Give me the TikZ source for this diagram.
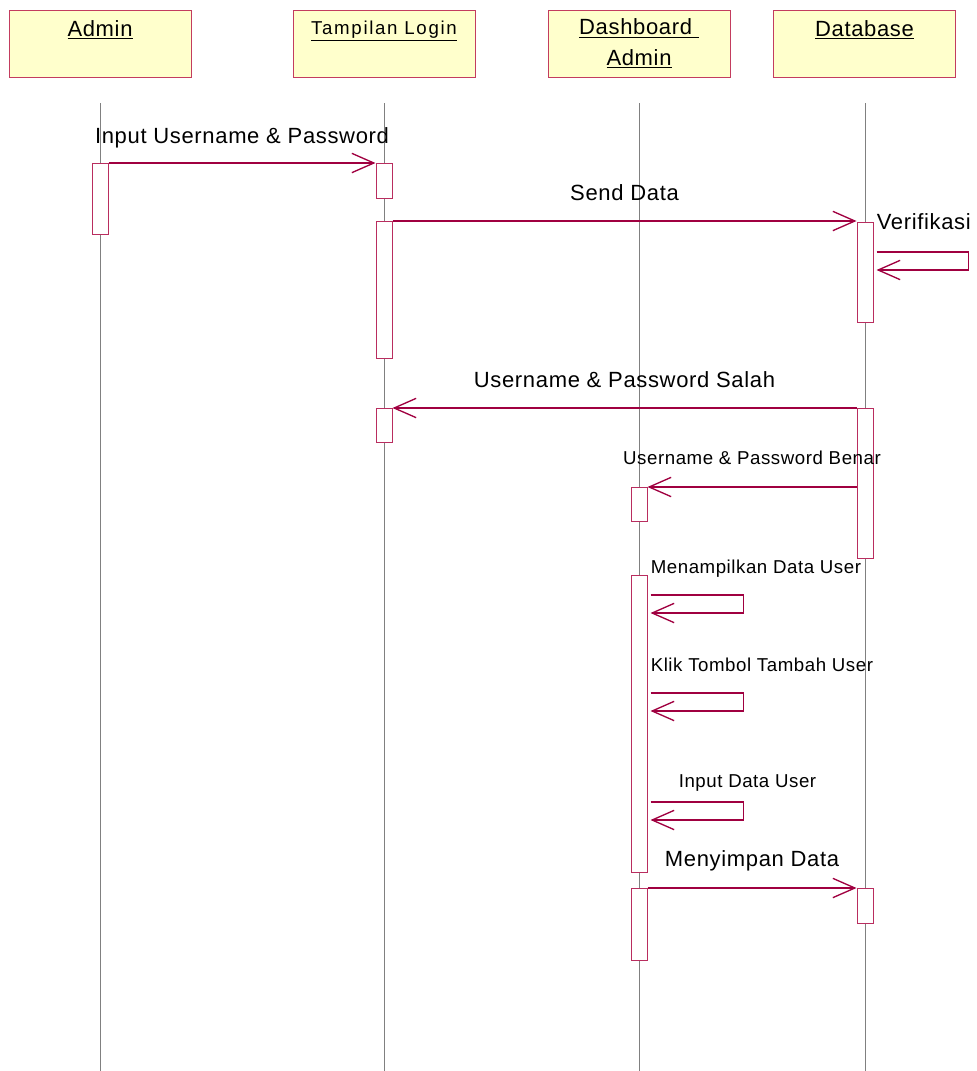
\documentclass[tikz,border=0pt]{standalone}
\usepackage{fontspec}
\setmainfont{Liberation Sans}[LetterSpace=3]
\usepackage{tikz}
\usetikzlibrary{positioning, calc, arrows.meta}

\definecolor{msgred}{RGB}{160,0,64}
\definecolor{actred}{RGB}{185,45,95}
\definecolor{headred}{RGB}{195,60,95}
\definecolor{headfill}{RGB}{255,255,204}
\definecolor{lifegray}{RGB}{128,128,128}

\begin{document}
\begin{tikzpicture}[
  x=0.75pt, y=-0.75pt,
  every node/.style={font=\fontsize{16.5}{23}\selectfont},
  head/.style={rectangle, draw=headred, fill=headfill, line width=0.75pt, minimum width=136.5pt, minimum height=50.25pt, align=center, inner sep=0pt},
  act/.style={rectangle, draw=actred, fill=white, line width=0.75pt, minimum width=12pt, inner sep=0pt, anchor=north},
  life/.style={draw=lifegray, line width=0.75pt},
  msg/.style={draw=msgred, line width=0.8pt, -{Straight Barb[length=16.5pt, width=14.5pt, line width=1pt]}},
  lbl/.style={inner sep=0pt, anchor=base},
  small/.style={font=\fontsize{14}{17}\selectfont}
]
\useasboundingbox (0,0) rectangle (976,1071);

% Lifeline heads
\node[head] (admin) at (100,43.5) {\underline{Admin}\\ \mbox{}};
\node[head] (login) at (384,43.5) {{\fontsize{14}{17}\selectfont\addfontfeature{LetterSpace=9}\underline{Tampilan Login}}\\ \mbox{}};
\node[head] (dash) at (639,43.5) {\underline{Dashboard }\\ \underline{Admin}};
\node[head] (db) at (864.5,43.5) {\underline{Database}\\ \mbox{}};

% Lifelines
\draw[life] (100,103) -- (100,1071);
\draw[life] (384,103) -- (384,1071);
\draw[life] (639,103) -- (639,1071);
\draw[life] (865,103) -- (865,1071);

% Activation boxes
\node[act, minimum height=53.25pt] (admin1) at (100,163) {};
\node[act, minimum height=26.25pt] (login1) at (384,163) {};
\node[act, minimum height=102.75pt] (login2) at (384,221) {};
\node[act, minimum height=25.5pt] (login3) at (384,408) {};
\node[act, minimum height=75pt] (db1) at (865,222) {};
\node[act, minimum height=112.5pt] (db2) at (865,408) {};
\node[act, minimum height=26.25pt] (db3) at (865,888) {};
\node[act, minimum height=25.5pt] (dash1) at (639,487) {};
\node[act, minimum height=222.75pt] (dash2) at (639,575) {};
\node[act, minimum height=54pt] (dash3) at (639,888) {};

% Messages
\draw[msg] (admin1.north east) -- (login1.north west)
  node[lbl, midway, yshift=15pt] (inputLbl) {Input Username \& Password};
\draw[msg] (login2.north east) -- (login2.north east -| db1.west)
  node[lbl, midway, yshift=15.75pt] (sendLbl) {Send Data};
\draw[msg] (db2.north west) -- (db2.north west -| login3.east)
  node[lbl, midway, yshift=15.75pt] (salahLbl) {Username \& Password Salah};
\draw[msg] (dash1.north east -| db2.west) -- (dash1.north east)
  node[lbl, small, midway, yshift=17pt] (benarLbl) {Username \& Password Benar};
\draw[msg] (dash3.north east) -- (dash3.north east -| db3.west)
  node[lbl, midway, yshift=16.5pt] (simpanLbl) {Menyimpan Data};

% Self messages
\coordinate (verif) at ($(db1.north east)+(3,30)$);
\draw[msg] (verif) -- ++(92,0) -- ++(0,18) -- ++(-92,0);
\node[lbl, anchor=base west] (verifLbl) at ([yshift=17.25pt]verif) {Verifikasi};

\coordinate (tampil) at ($(dash2.north east)+(3,20)$);
\draw[msg] (tampil) -- ++(93,0) -- ++(0,18) -- ++(-93,0);
\node[lbl, small, anchor=base west] (tampilLbl) at ([yshift=16.5pt]tampil) {Menampilkan Data User};

\coordinate (klik) at ($(dash2.north east)+(3,118)$);
\draw[msg] (klik) -- ++(93,0) -- ++(0,18) -- ++(-93,0);
\node[lbl, small, anchor=base west] (klikLbl) at ([yshift=16.5pt]klik) {Klik Tombol Tambah User};

\coordinate (isi) at ($(dash2.north east)+(3,227)$);
\draw[msg] (isi) -- ++(93,0) -- ++(0,18) -- ++(-93,0);
\node[lbl, small, anchor=base west] (isiLbl) at ([xshift=21pt, yshift=11.25pt]isi) {Input Data User};

\end{tikzpicture}
\end{document}
